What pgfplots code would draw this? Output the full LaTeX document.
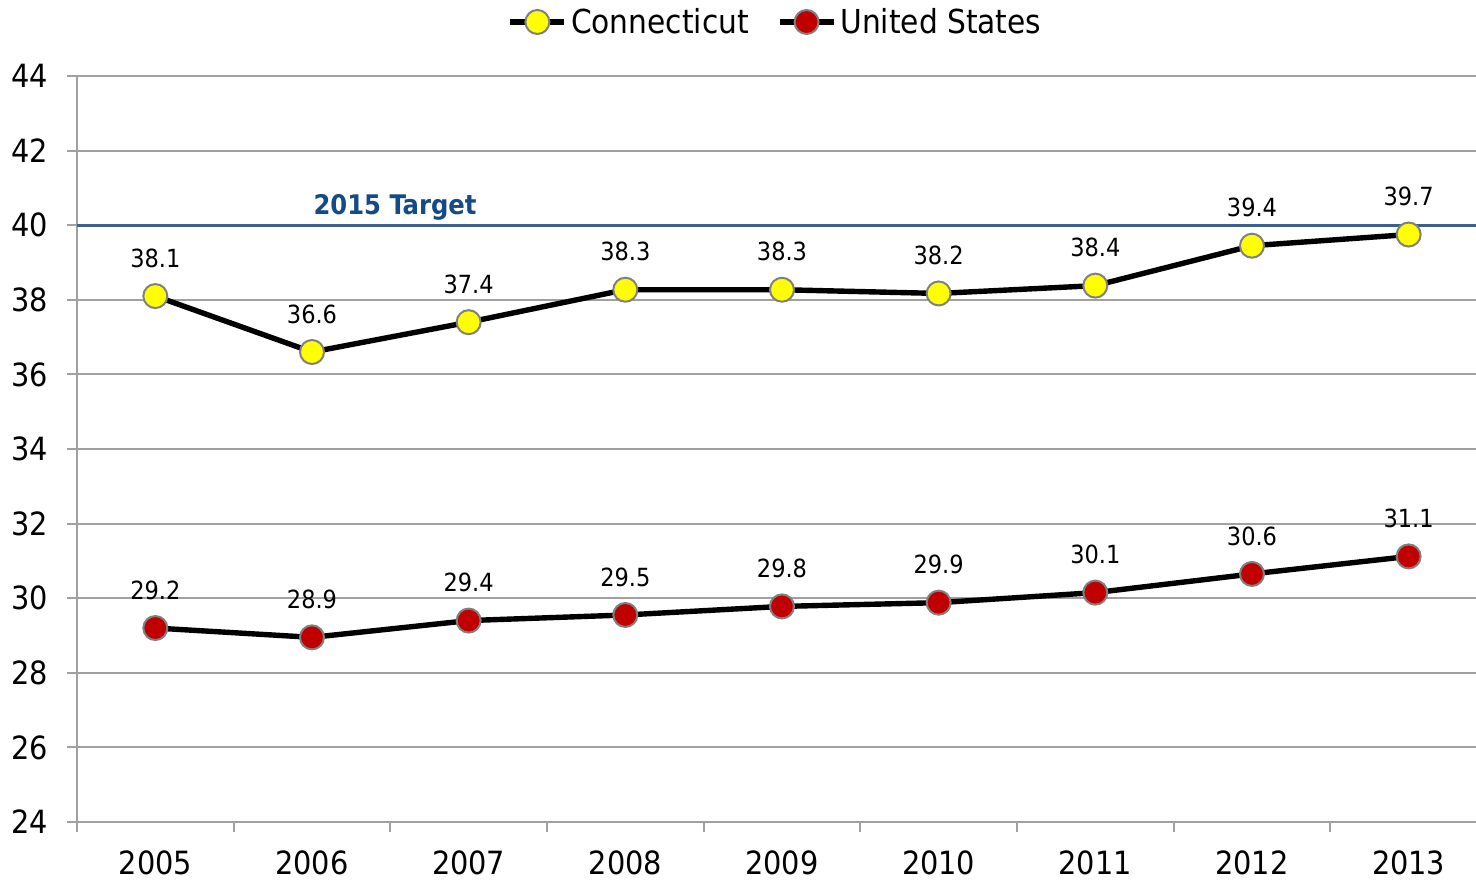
\documentclass[border=0pt]{standalone}
\usepackage{pgfplots}
\pgfplotsset{compat=1.18}
\usepackage{fontspec}
\setmainfont{DejaVu Sans Condensed}
\definecolor{cty}{RGB}{255,255,0}
\definecolor{usr}{RGB}{192,0,0}
\definecolor{mk}{RGB}{128,128,128}
\definecolor{tgt}{RGB}{60,95,145}
\definecolor{tgttxt}{RGB}{20,75,135}
\definecolor{gridc}{RGB}{160,160,160}
\begin{document}
\begin{tikzpicture}
\begin{axis}[
  name=ax, at={(0,0)}, anchor=south west,
  scale only axis, width=699.5pt, height=373pt,
  xmin=-0.5, xmax=8.43, ymin=24, ymax=44,
  xtick={0,...,8},
  xticklabels={2005,2006,2007,2008,2009,2010,2011,2012,2013},
  minor xtick={-0.5,0.5,...,7.5},
  ytick={24,26,...,44},
  axis x line*=bottom, axis y line*=left,
  axis line style={draw=gridc, line width=1pt, -},
  tick align=outside,
  major x tick style={draw=none},
  minor x tick style={draw=gridc, line width=1pt},
  major y tick style={draw=gridc, line width=1pt},
  major tick length=5pt, minor tick length=5pt,
  ymajorgrids, grid style={draw=gridc, line width=1pt},
  /pgf/number format/assume math mode=true,
  tick label style={font=\fontsize{16}{19}\selectfont},
  xticklabel style={yshift=-6pt},
  yticklabel style={xshift=-6pt},
  legend columns=2,
  legend style={at={(0.5,1)}, anchor=center, yshift=27pt, draw=none,
    font=\fontsize{16.5}{19}\selectfont, column sep=0pt,
    /tikz/every even column/.append style={column sep=12pt}},
  legend image code/.code={
    \draw[#1, mark=none] (0pt,0pt) -- (27pt,0pt);
    \draw[#1, only marks] plot coordinates {(13.5pt,0pt)};
  },
  nodes near coords,
  point meta=explicit symbolic,
  every node near coord/.append style={anchor=center, yshift=19pt,
    font=\fontsize{12.5}{15}\selectfont, text=black},
  clip=false,
]
\addplot[black, line width=2.7pt, mark=*, mark size=6pt,
  mark options={fill=cty, draw=mk, line width=1pt}]
  coordinates {(0,38.1)[38.1] (1,36.6)[36.6] (2,37.4)[37.4] (3,38.27)[38.3] (4,38.27)[38.3]
  (5,38.17)[38.2] (6,38.38)[38.4] (7,39.45)[39.4] (8,39.75)[39.7]};
\addlegendentry{Connecticut}
\addplot[black, line width=2.7pt, mark=*, mark size=6pt,
  mark options={fill=usr, draw=mk, line width=1pt}]
  coordinates {(0,29.2)[29.2] (1,28.95)[28.9] (2,29.4)[29.4] (3,29.55)[29.5] (4,29.78)[29.8]
  (5,29.88)[29.9] (6,30.15)[30.1] (7,30.65)[30.6] (8,31.12)[31.1]};
\addlegendentry{United States}
\draw[tgt, line width=1.5pt] (axis cs:-0.5,40) -- (axis cs:8.43,40);
\node[text=tgttxt, font=\bfseries\fontsize{13.5}{16}\selectfont] at (axis cs:1.53,40.49) {2015 Target};
\end{axis}
\pgfresetboundingbox
\path (ax.south west) ++(-38.5pt,-30pt) coordinate (bl);
\path (ax.north east) ++(0pt,38pt) coordinate (tr);
\path (bl) rectangle (tr);
\end{tikzpicture}
\end{document}
